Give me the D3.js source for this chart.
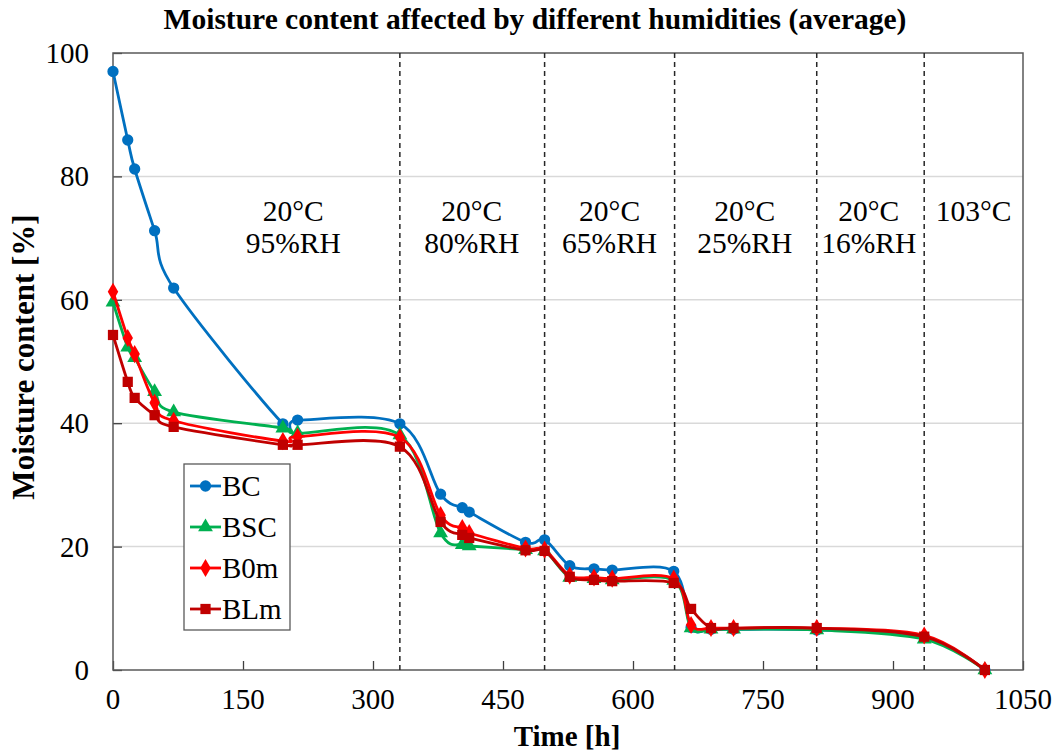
<!DOCTYPE html>
<html>
<head>
<meta charset="utf-8">
<script src="https://cdn.jsdelivr.net/npm/d3@7"></script>
<style>
  body { margin: 0; background: #fff; }
  svg text { font-family: "Liberation Serif", "Times New Roman", Times, serif; fill: #000; }
</style>
</head>
<body>
<div id="c1"></div>
<script>
// Data
var times = [0, 17, 25, 48, 70, 196, 213, 331, 378, 403, 411, 476, 498, 527, 555, 576, 647, 667, 690, 716, 812, 936, 1006];
var bc  = [97.0, 85.9, 81.2, 71.2, 61.9, 39.9, 40.5, 39.9, 28.5, 26.3, 25.6, 20.7, 21.1, 16.9, 16.4, 16.2, 16.0, 6.9, 6.6, 6.6, 6.5, 5.4, 0];
var bsc = [59.6, 52.3, 50.6, 45.1, 41.8, 39.2, 38.4, 38.1, 22.2, 20.3, 20.1, 19.5, 19.3, 15.0, 14.8, 14.6, 14.5, 6.8, 6.6, 6.6, 6.5, 5.0, 0];
var b0m = [61.3, 53.8, 51.2, 43.3, 40.4, 37.1, 37.8, 37.7, 25.1, 23.0, 22.2, 19.7, 19.5, 15.3, 15.0, 14.8, 14.8, 7.3, 6.8, 6.8, 6.8, 5.6, 0];
var blm = [54.3, 46.7, 44.1, 41.3, 39.4, 36.5, 36.5, 36.2, 24.0, 21.9, 21.4, 19.4, 19.3, 15.1, 14.6, 14.4, 14.1, 9.9, 6.8, 6.8, 6.8, 5.4, 0];
var seriesNames = ["BC", "BSC", "B0m", "BLm"];
var phaseBounds = [331, 498, 648, 812, 936];
var phaseLabels = [
    {t: 208, lines: ["20°C", "95%RH"]},
    {t: 414, lines: ["20°C", "80%RH"]},
    {t: 573, lines: ["20°C", "65%RH"]},
    {t: 729, lines: ["20°C", "25%RH"]},
    {t: 872, lines: ["20°C", "16%RH"]},
    {t: 993, lines: ["103°C"]}
];
var xTicks = [0, 150, 300, 450, 600, 750, 900, 1050];
var yTicks = [0, 20, 40, 60, 80, 100];

var w = 1057, h = 753;
var serif = '"Liberation Serif", "Times New Roman", Times, serif';
var colors = ["#0070C0", "#00B050", "#FF0000", "#C00000"];
var symbols = [d3.symbolCircle, d3.symbolTriangle, d3.symbolDiamond, d3.symbolSquare];
var symSize = [100, 95, 95, 105];

function draw() {
    var svg = d3.select("#c1").append("svg")
        .attr("width", w)
        .attr("height", h)
        .attr("font-family", serif);

    var x = d3.scaleLinear().domain([0, 1050]).range([113, 1023]);
    var y = d3.scaleLinear().domain([0, 100]).range([670, 53]);

    // Gridlines
    svg.selectAll("line.grid")
        .data(yTicks.filter(function (d) { return d > 0 && d < 100; }))
        .enter().append("line")
        .attr("x1", x(0)).attr("x2", x(1050))
        .attr("y1", function (d) { return y(d); })
        .attr("y2", function (d) { return y(d); })
        .attr("stroke", "#d9d9d9")
        .attr("stroke-width", 1.5);

    // Axes (ticks inward)
    var xAxis = svg.append("g")
        .attr("transform", "translate(0," + y(0) + ")")
        .call(d3.axisTop(x).tickValues(xTicks).tickSize(9).tickFormat(""));
    xAxis.select(".domain").remove();
    xAxis.selectAll("line").attr("stroke", "#404040").attr("stroke-width", 1.3);

    var yAxis = svg.append("g")
        .attr("transform", "translate(" + x(0) + ",0)")
        .call(d3.axisRight(y).tickValues(yTicks).tickSize(9).tickFormat(""));
    yAxis.select(".domain").remove();
    yAxis.selectAll("line").attr("stroke", "#404040").attr("stroke-width", 1.3);

    // Tick labels
    svg.selectAll("text.xt")
        .data(xTicks).enter().append("text")
        .attr("font-family", serif)
        .attr("x", function (d) { return x(d); })
        .attr("y", 709)
        .attr("text-anchor", "middle")
        .attr("font-size", 29)
        .text(function (d) { return d; });

    svg.selectAll("text.yt")
        .data(yTicks).enter().append("text")
        .attr("font-family", serif)
        .attr("x", 89)
        .attr("y", function (d) { return y(d) + 10; })
        .attr("text-anchor", "end")
        .attr("font-size", 29)
        .text(function (d) { return d; });

    // Frame
    svg.append("rect")
        .attr("x", x(0)).attr("y", y(100))
        .attr("width", x(1050) - x(0))
        .attr("height", y(0) - y(100))
        .attr("fill", "none")
        .attr("stroke", "#595959")
        .attr("stroke-width", 1.5);

    // Phase boundaries
    svg.selectAll("line.phase")
        .data(phaseBounds).enter().append("line")
        .attr("x1", function (d) { return x(d); })
        .attr("x2", function (d) { return x(d); })
        .attr("y1", y(100)).attr("y2", y(0))
        .attr("stroke", "#262626")
        .attr("stroke-width", 1.5)
        .attr("stroke-dasharray", "5,4");

    // Phase labels
    var pl = svg.selectAll("text.pl")
        .data(phaseLabels).enter().append("text")
        .attr("font-family", serif)
        .attr("text-anchor", "middle")
        .attr("font-size", 29.5);
    pl.each(function (d) {
        var t = d3.select(this);
        d.lines.forEach(function (s, i) {
            t.append("tspan")
                .attr("x", x(d.t))
                .attr("y", 221 + i * 32)
                .text(s);
        });
    });

    // Series
    var data = [bc, bsc, b0m, blm].map(function (vals) {
        return vals.map(function (v, i) { return {t: times[i], v: v}; });
    });

    var line = d3.line()
        .x(function (d) { return x(d.t); })
        .y(function (d) { return y(d.v); })
        .curve(d3.curveCardinal.tension(0));

    data.forEach(function (pts, k) {
        svg.append("path")
            .datum(pts)
            .attr("d", line)
            .attr("fill", "none")
            .attr("stroke", colors[k])
            .attr("stroke-width", 2.8);

        svg.selectAll("path.m" + k)
            .data(pts).enter().append("path")
            .attr("d", d3.symbol().type(symbols[k]).size(symSize[k]))
            .attr("transform", function (d) {
                return "translate(" + x(d.t) + "," + y(d.v) + ")";
            })
            .attr("fill", colors[k]);
    });

    // Legend
    var lg = svg.append("g");
    lg.append("rect")
        .attr("x", 184).attr("y", 464)
        .attr("width", 106).attr("height", 166)
        .attr("fill", "#fff")
        .attr("stroke", "#595959")
        .attr("stroke-width", 1.3);

    seriesNames.forEach(function (name, k) {
        var ly = 486 + k * 41;
        lg.append("line")
            .attr("x1", 190).attr("x2", 221)
            .attr("y1", ly).attr("y2", ly)
            .attr("stroke", colors[k])
            .attr("stroke-width", 2.8);
        lg.append("path")
            .attr("d", d3.symbol().type(symbols[k]).size(symSize[k]))
            .attr("transform", "translate(205.5," + ly + ")")
            .attr("fill", colors[k]);
        lg.append("text")
            .attr("font-family", serif)
            .attr("x", 222)
            .attr("y", ly + 10)
            .attr("font-size", 29)
            .text(name);
    });

    // Titles
    svg.append("text")
        .attr("font-family", serif)
        .attr("x", 535).attr("y", 29)
        .attr("text-anchor", "middle")
        .attr("font-size", 29.5)
        .attr("font-weight", "bold")
        .text("Moisture content affected by different humidities (average)");

    svg.append("text")
        .attr("font-family", serif)
        .attr("x", 567).attr("y", 746)
        .attr("text-anchor", "middle")
        .attr("font-size", 29)
        .attr("font-weight", "bold")
        .text("Time [h]");

    svg.append("text")
        .attr("font-family", serif)
        .attr("transform", "translate(34," + 357 + ") rotate(-90)")
        .attr("text-anchor", "middle")
        .attr("font-size", 31)
        .attr("font-weight", "bold")
        .text("Moisture content [%]");
}

draw();
</script>
</body>
</html>
